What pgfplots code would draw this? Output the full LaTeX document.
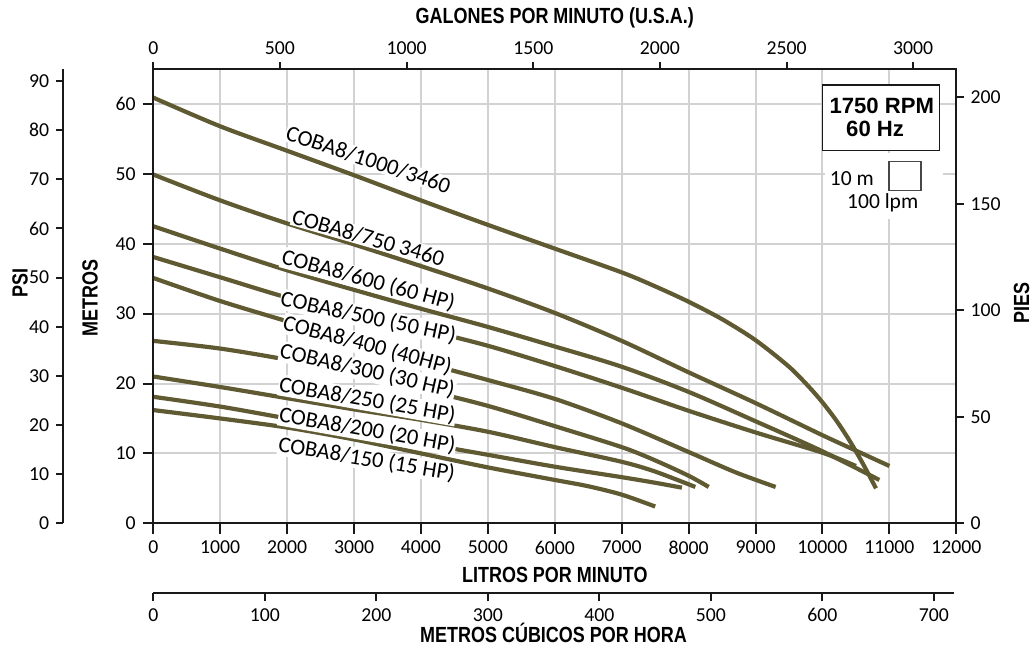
\documentclass[border=0pt]{standalone}
\usepackage{pgfplots}
\pgfplotsset{compat=1.18}
\usepackage{fontspec}
\setmainfont{Carlito}
\newfontfamily\titlefont{Liberation Sans}[FakeStretch=0.82]
\newfontfamily\boxfont{Liberation Sans}

\definecolor{curvec}{RGB}{96,90,50}
\definecolor{gridc}{RGB}{210,210,210}
\definecolor{axisc}{RGB}{25,25,25}

\pgfplotsset{
  base/.style={
    scale only axis, width=401.5bp, height=227.15bp,
    axis line style={line width=1.15bp, draw=axisc},
    tick style={line width=1bp, draw=axisc},
    tick align=outside,
    ticklabel style={font=\fontsize{9.9}{11}\selectfont, text=black},
    /pgf/number format/assume math mode=true,
    /pgf/number format/1000 sep={},
    scaled ticks=false,
    label style={font=\titlefont\bfseries\fontsize{11}{12}\selectfont},
    minor tick num=0,
  },
  curve/.style={draw=curvec, line width=2.1bp, smooth, tension=0.5, mark=none},
}
\tikzset{lbl/.style={font=\fontsize{11.3}{12}\selectfont, fill=white, inner sep=0.4bp}}

\begin{document}
\begin{tikzpicture}
\path[use as bounding box] (-76.65bp,-61.35bp) rectangle (439.85bp,261.65bp);

% main axis: litros por minuto / metros
\begin{axis}[base, at={(0,0)},
  xmin=0, xmax=12000, ymin=0, ymax=65,
  xtick={0,1000,...,12000}, ytick={0,10,...,60},
  xtick pos=left, ytick pos=left,
  major tick length=5.3bp,
  grid=major, major grid style={draw=gridc, line width=1bp},
  xlabel={LITROS POR MINUTO}, ylabel={METROS},
  xlabel style={at={(axis description cs:0.5,-0.1138)}, anchor=center},
  ylabel style={at={(axis description cs:-0.0788,0.496)}, anchor=center},
]
% COBA8/1000/3460
\addplot[curve] coordinates {(0,60.9) (1000,56.8) (2000,53.3) (3000,49.8) (4000,46.2) (5000,42.7) (6000,39.3) (7000,35.9) (7500,33.9) (8000,31.7) (8500,29.2) (9000,26.2) (9500,22.4) (9800,19.5) (10000,17.3) (10200,14.8) (10400,11.9) (10600,8.6) (10800,5.0)};
% COBA8/750
\addplot[curve] coordinates {(0,49.9) (1000,46.2) (2000,42.9) (3000,39.9) (4000,36.8) (5000,33.6) (6000,30.1) (7000,26.1) (8000,21.6) (9000,17.2) (10000,12.6) (10500,10.4) (11000,8.2)};
% COBA8/600
\addplot[curve] coordinates {(0,42.5) (1000,39.3) (2000,36.2) (3000,33.4) (4000,30.7) (5000,28.1) (6000,25.3) (7000,22.4) (8000,18.8) (9000,14.6) (10000,10.3) (10850,6.2)};
% COBA8/500
\addplot[curve] coordinates {(0,38.1) (1000,35.2) (2000,32.3) (3000,29.9) (4000,27.8) (5000,25.4) (6000,22.5) (7000,19.4) (8000,16.1) (9000,13.0) (10000,10.1) (10500,8.2)};
% COBA8/400
\addplot[curve] coordinates {(0,35.1) (1000,31.8) (2000,28.9) (3000,26.0) (4000,23.1) (5000,20.5) (6000,17.8) (7000,14.3) (8000,10.2) (8700,7.3) (9300,5.2)};
% COBA8/300
\addplot[curve] coordinates {(0,26.1) (1000,25.0) (2000,23.4) (3000,21.4) (4000,19.2) (5000,16.8) (6000,13.9) (7000,10.9) (7500,9.0) (8000,6.8) (8300,5.2)};
% COBA8/250
\addplot[curve] coordinates {(0,21.0) (1000,19.5) (2000,17.9) (3000,16.3) (4000,14.8) (5000,13.1) (6000,10.9) (7000,8.8) (7500,7.4) (8100,5.2)};
% COBA8/200
\addplot[curve] coordinates {(0,18.1) (1000,16.7) (2000,15.0) (3000,13.3) (4000,11.5) (5000,9.8) (6000,8.1) (7000,6.6) (7500,5.8) (7900,5.1)};
% COBA8/150
\addplot[curve] coordinates {(0,16.2) (1000,15.0) (2000,13.7) (3000,12.0) (4000,10.0) (5000,8.0) (6000,6.2) (6500,5.3) (7000,4.1) (7500,2.4)};

\node[lbl, rotate=-18.5] at (axis cs:3214,52.04) {COBA8/1000/3460};
\node[lbl, rotate=-16]   at (axis cs:3214,40.86) {COBA8/750 3460};
\node[lbl, rotate=-15.2] at (axis cs:3214,34.76) {COBA8/600 (60 HP)};
\node[lbl, rotate=-12]   at (axis cs:3214,29.45) {COBA8/500 (50 HP)};
\node[lbl, rotate=-15]   at (axis cs:3199,25.47) {COBA8/400 (40HP)};
\node[lbl, rotate=-12.8] at (axis cs:3199,21.80) {COBA8/300 (30 HP)};
\node[lbl, rotate=-10]   at (axis cs:3199,17.60) {COBA8/250 (25 HP)};
\node[lbl, rotate=-10]   at (axis cs:3199,13.30) {COBA8/200 (20 HP)};
\node[lbl, rotate=-9.3]  at (axis cs:3190,9.14)  {COBA8/150 (15 HP)};

% speed box and scale square
\draw[fill=white, draw=axisc, line width=0.6bp] (axis cs:10006,62.71) rectangle (axis cs:11750,53.33);
\node[font=\boxfont\bfseries\fontsize{11.1}{12}\selectfont] at (axis cs:10887,59.76) {1750 RPM};
\node[font=\boxfont\bfseries\fontsize{11.1}{12}\selectfont] at (axis cs:10787,56.43) {60 Hz};
\fill[white] (axis cs:10040,53.0) rectangle (axis cs:11803,43.6);
\draw[draw=axisc!80, line width=0.7bp] (axis cs:10992,51.76) rectangle (axis cs:11475,47.61);
\node[font=\fontsize{10.8}{12}\selectfont] at (axis cs:10439,49.33) {10 m};
\node[font=\fontsize{10.8}{12}\selectfont] at (axis cs:10900,45.83) {100 lpm};
\end{axis}

% top axis: galones por minuto
\begin{axis}[base, at={(0,0)},
  xmin=0, xmax=3170.06, ymin=0, ymax=65,
  hide y axis,
  xtick={0,500,...,3000},
  xtick pos=right, xticklabel pos=right,
  major tick length=3.6bp,
  xlabel={GALONES POR MINUTO (U.S.A.)},
  xlabel style={at={(axis description cs:0.5,1.1116)}, anchor=center},
]
\end{axis}

% right axis: pies
\begin{axis}[base, at={(0,0)},
  xmin=0, xmax=12000, ymin=0, ymax=213.25,
  hide x axis,
  ytick={0,50,...,200},
  ytick pos=right, yticklabel pos=right,
  major tick length=3.6bp,
  ylabel={PIES},
  ylabel style={at={(axis description cs:1.0814,0.4856)}, anchor=center},
]
\end{axis}

% far left axis: psi
\begin{axis}[base, at={(-45bp,0)}, width=40bp,
  xmin=0, xmax=1, ymin=0, ymax=92.45,
  axis y line*=left, axis x line=none,
  axis line style={-},
  ytick={0,10,...,90},
  major tick length=3.6bp,
  ylabel={PSI},
  ylabel style={at={(axis description cs:-0.541,0.528)}, anchor=center},
]
\end{axis}

% bottom axis: metros cubicos por hora
\begin{axis}[base, at={(0,-35bp)}, width=400.2bp, height=20bp,
  xmin=0, xmax=717.7, ymin=0, ymax=1,
  axis x line*=bottom, axis y line=none,
  axis line style={-},
  xtick={0,100,...,700},
  major tick length=4bp,
  xlabel={METROS CÚBICOS POR HORA},
  xlabel style={at={(axis description cs:0.5,0)}, anchor=center, yshift=-19.85bp},
]
\end{axis}
\end{tikzpicture}
\end{document}
